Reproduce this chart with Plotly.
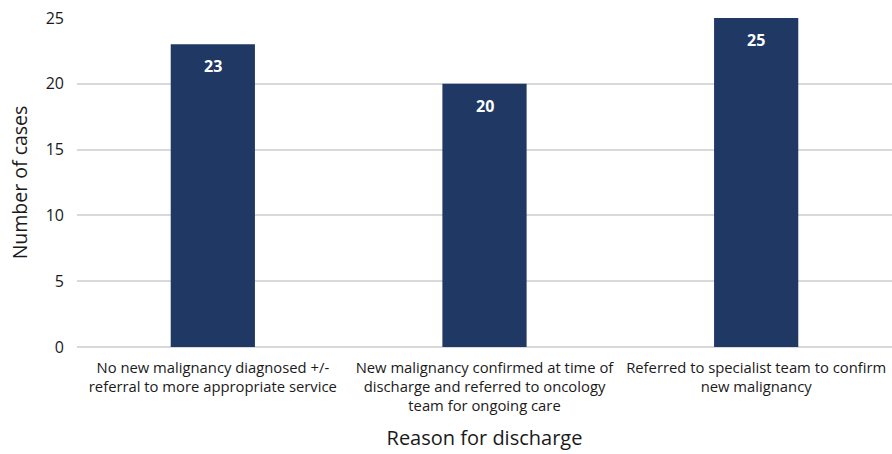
import plotly.graph_objects as go

# Discharge reasons and case counts
categories = [
    "No new malignancy diagnosed +/-<br>referral to more appropriate service",
    "New malignancy confirmed at time of<br>discharge and referred to oncology<br>team for ongoing care",
    "Referred to specialist team to confirm<br>new malignancy",
]
cases = [23, 20, 25]
y_ticks = [0, 5, 10, 15, 20, 25]

bar_color = "#1f3864"
font_family = "Open Sans, Lato, sans-serif"

fig = go.Figure(
    go.Bar(
        x=categories,
        y=cases,
        marker=dict(color=bar_color, line=dict(width=0)),
        width=0.31,
    )
)

# Value labels just under the top of each bar
for cat, val in zip(categories, cases):
    fig.add_annotation(
        x=cat, y=val, text=f"<b>{val}</b>", showarrow=False,
        yanchor="middle", yshift=-22,
        font=dict(family=font_family, size=16, color="white"),
    )

fig.update_layout(
    width=892, height=454,
    margin=dict(l=77, r=0, t=18, b=107),
    paper_bgcolor="white", plot_bgcolor="white",
    showlegend=False,
    font=dict(family=font_family, color="#1a1a1a"),
    bargap=0.69,
    xaxis=dict(
        tickfont=dict(size=14.8, color="#1a1a1a"),
        title=dict(text="Reason for discharge", font=dict(size=20), standoff=16),
        showgrid=False, showline=False, ticks="",
        ticklabelstandoff=10,
    ),
    yaxis=dict(
        range=[0, 25],
        tickvals=y_ticks,
        tickfont=dict(size=16, color="#1a1a1a"),
        title=dict(text="Number of cases", font=dict(size=19.5), standoff=12),
        showgrid=True, gridcolor="#d9d9d9", gridwidth=1.5,
        zeroline=True, zerolinecolor="#d9d9d9", zerolinewidth=1.5,
        ticks="", ticklabelstandoff=12,
    ),
)

fig.write_html("out.html")
